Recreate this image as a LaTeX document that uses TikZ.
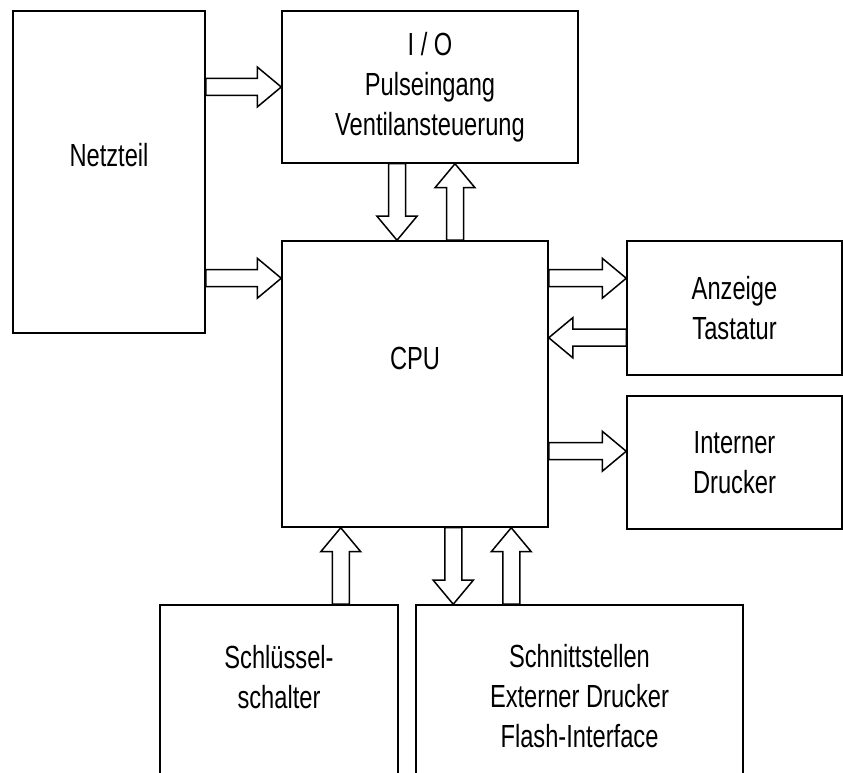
\documentclass[tikz,border=0pt]{standalone}
\usepackage{fontspec}
\setmainfont{Liberation Sans}[FakeStretch=0.74]
\usetikzlibrary{calc}

% hollow block arrow from #1 to #2 (tip at #2)
\newcommand{\hollowarrow}[2]{%
  \coordinate (ha) at ($(#2)!24pt!(#1)$);
  \draw[blockarrow] ($(#1)!8.5pt!90:(#2)$) -- ($(ha)!8.5pt!90:(#2)$) -- ($(ha)!20pt!90:(#2)$)
    -- (#2) -- ($(ha)!20pt!-90:(#2)$) -- ($(ha)!8.5pt!-90:(#2)$) -- ($(#1)!8.5pt!-90:(#2)$) -- cycle;}

\begin{document}
\begin{tikzpicture}[x=1pt,y=1pt,font=\fontsize{32}{40}\selectfont,
    box/.style={draw,line width=1.5pt,align=center,inner sep=0pt},
    boxtext/.style={align=center,inner sep=0pt},
    blockarrow/.style={draw,line width=1.5pt,line join=miter}]
  \useasboundingbox (0,0) rectangle (843,773);

  % blocks
  \node[box,minimum width=192pt,minimum height=322pt] (netz) at (109,601) {};
  \node[box,minimum width=296pt,minimum height=152pt] (io) at (430,686) {I / O\\Pulseingang\\Ventilansteuerung};
  \node[box,minimum width=266pt,minimum height=286pt] (cpu) at (415,389) {};
  \node[box,minimum width=215pt,minimum height=134pt] (anz) at (734.5,465) {Anzeige\\Tastatur};
  \node[box,minimum width=215pt,minimum height=133pt] (drk) at (734.5,310.5) {Interner\\Drucker};
  \node[box,minimum width=238pt,minimum height=195pt] (key) at (279,70.5) {};
  \node[box,minimum width=327pt,minimum height=195pt] (ifc) at (579.5,70.5) {};

  % labels
  \node[boxtext] (netztxt) at ([yshift=17pt]netz.center) {Netzteil};
  \node[boxtext] (cputxt) at ([yshift=26pt]cpu.center) {CPU};
  \node[boxtext] (keytxt) at (279,96) {Schlüssel-\\schalter};
  \node[boxtext] (ifctxt) at (579.5,77) {Schnittstellen\\Externer Drucker\\Flash-Interface};

  % arrow ends
  \coordinate (n2i) at (netz.east |- io.west);
  \coordinate (c2t) at ([yshift=-38pt]cpu.north west);
  \coordinate (n2c) at (netz.east |- c2t);
  \coordinate (i2c) at ([xshift=-33pt]io.south);
  \coordinate (i2cb) at (i2c |- cpu.north);
  \coordinate (c2i) at ([xshift=25pt]io.south);
  \coordinate (c2ib) at (c2i |- cpu.north);
  \coordinate (c2a) at ([yshift=-38pt]anz.north west);
  \coordinate (c2ab) at (cpu.east |- c2a);
  \coordinate (a2c) at ([yshift=38pt]anz.south west);
  \coordinate (a2cb) at (cpu.east |- a2c);
  \coordinate (c2d) at ([yshift=-56pt]drk.north west);
  \coordinate (c2db) at (cpu.east |- c2d);
  \coordinate (k2c) at ([xshift=-58pt]key.north east);
  \coordinate (k2cb) at (k2c |- cpu.south);
  \coordinate (c2f) at ([xshift=38pt]ifc.north west);
  \coordinate (c2fb) at (c2f |- cpu.south);
  \coordinate (f2c) at ([xshift=96pt]ifc.north west);
  \coordinate (f2cb) at (f2c |- cpu.south);

  % connectors
  \hollowarrow{n2i}{io.west}
  \hollowarrow{n2c}{c2t}
  \hollowarrow{i2c}{i2cb}
  \hollowarrow{c2ib}{c2i}
  \hollowarrow{c2ab}{c2a}
  \hollowarrow{a2c}{a2cb}
  \hollowarrow{c2db}{c2d}
  \hollowarrow{k2c}{k2cb}
  \hollowarrow{c2fb}{c2f}
  \hollowarrow{f2c}{f2cb}
\end{tikzpicture}
\end{document}
